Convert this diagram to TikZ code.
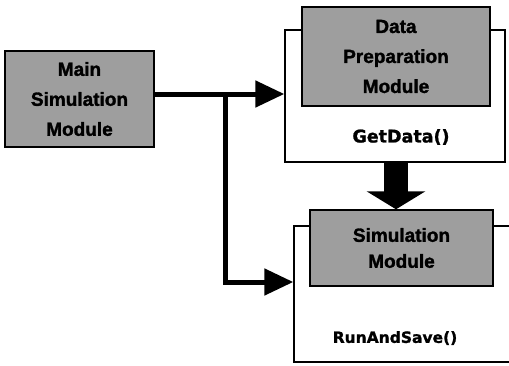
\documentclass[tikz,border=0pt]{standalone}
\usepackage{fontspec}
\setmainfont{Liberation Sans}[BoldFeatures={FakeBold=1.6}]
\newfontfamily\methodfont{DejaVu Sans}[BoldFeatures={FakeBold=1.2}]
\usetikzlibrary{arrows.meta}

\tikzset{
  module/.style={draw=black, line width=1.4pt, fill=black!38, inner sep=0pt,
    align=center, font=\bfseries\fontsize{19}{30}\selectfont},
  frame/.style={draw=black, line width=1.4pt, fill=white, inner sep=0pt},
  method/.style={inner sep=0pt, font=\methodfont\bfseries\fontsize{17.5}{20}\selectfont},
  flow/.style={line width=5pt, -{Triangle[length=29pt,width=26pt]}},
  bigflow/.style={line width=24pt, -{Triangle[length=18pt,width=58pt]}}
}

\begin{document}
\begin{tikzpicture}[x=1pt, y=-1pt]
\clip (0,0) rectangle (509,365);
\fill[white] (0,0) rectangle (509,365);

% main module
\node[module, minimum width=149pt, minimum height=96pt] (main) at (79.5,99)
  {Main\\Simulation\\Module};

% data preparation: frame with its module on top
\node[frame, minimum width=220pt, minimum height=132pt] (dataout) at (395,96) {};
\node[module, minimum width=188pt, minimum height=99pt] (datain) at (396,56.5)
  {Data\\Preparation\\Module};
\node[method] (getdata) at (401,137) {GetData()};

% simulation: frame runs off the right edge
\node[frame, minimum width=246pt, minimum height=136pt] (simout) at (417,294) {};
\node[module, minimum width=183pt, minimum height=76pt,
  font=\bfseries\fontsize{19}{26}\selectfont] (simin) at (401.5,248)
  {Simulation\\Module};
\node[method, font=\methodfont\bfseries\fontsize{15.5}{20}\selectfont] (runsave) at (395,338) {RunAndSave()};

% connectors
\coordinate (br) at (225,94);
\coordinate (sj) at (225,282);
\draw[flow] (main.east |- br) -- (dataout.west |- br);
\draw[flow] (br) -- (sj) -- (simout.west |- sj);
\draw[bigflow] (datain.center |- dataout.south) -- (datain.center |- simin.north);
\end{tikzpicture}
\end{document}
